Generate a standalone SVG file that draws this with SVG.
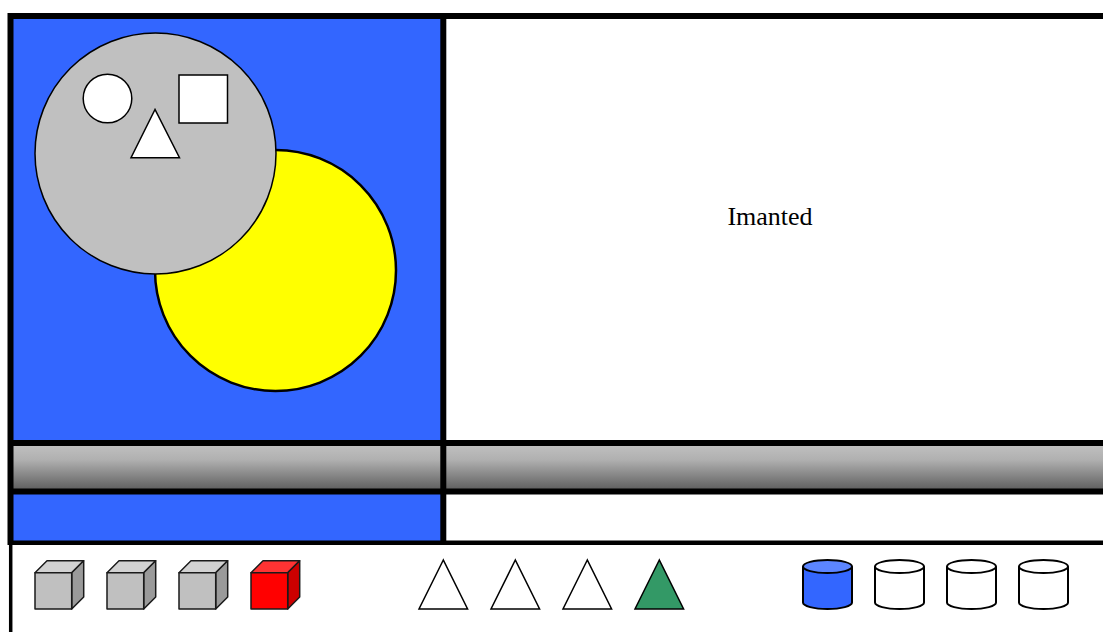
<svg xmlns="http://www.w3.org/2000/svg" width="1103" height="632" viewBox="0 0 1103 632">
<defs>
<linearGradient id="bar" x1="0" y1="0" x2="0" y2="1">
<stop offset="0" stop-color="#c2c2c2"/>
<stop offset="0.35" stop-color="#b0b0b0"/>
<stop offset="1" stop-color="#5c5c5c"/>
</linearGradient>
</defs>
<style>
.line{stroke:#000;stroke-width:6;fill:none}
.shape{stroke:#000;stroke-width:1.5}
.cube path,.cube rect{stroke:#1a1a1a;stroke-width:1.5;stroke-linejoin:round}
.gray .top{fill:#d2d2d2}
.gray .side{fill:#9a9a9a}
.gray .front{fill:#c0c0c0}
.red .top{fill:#ff3333}
.red .side{fill:#cc0000}
.red .front{fill:#ff0000}
.tri polygon{stroke:#000;stroke-width:1.5;stroke-linejoin:miter}
.triw polygon{fill:#fff}
.trig polygon{fill:#339966}
.cyl path,.cyl ellipse{stroke:#000;stroke-width:2}
.cylw path,.cylw ellipse{fill:#fff}
.cylb path{fill:#3366ff}
.cylb ellipse{fill:#5c85ff}
.label{font-family:"Liberation Serif",serif;font-size:26px;fill:#000}
</style>
<rect width="1103" height="632" fill="#fff"/>
<g id="left-panel">
<rect x="11" y="16" width="432" height="527" fill="#3366ff"/>
</g>
<g id="gray-circle-yellow">
<circle id="yellow-circle" cx="275.5" cy="270.5" r="120.5" fill="#ffff00" stroke="#000" stroke-width="2.5"/>
<circle id="gray-circle" cx="155.5" cy="153.5" r="120.5" fill="#c0c0c0" stroke="#000" stroke-width="1.5"/>
<circle id="eye-circle" cx="107.5" cy="98.5" r="24.3" fill="#fff" class="shape"/>
<rect id="eye-square" x="179" y="75" width="48.5" height="48" fill="#fff" class="shape"/>
<polygon id="nose-triangle" points="155,109.5 131,157.7 179.5,157.7" fill="#fff" class="shape"/>
</g>
<g id="right-panel">
<text class="label" x="770" y="225" text-anchor="middle">Imanted</text>
</g>
<g id="bars">
<rect x="11" y="443" width="432" height="48" fill="url(#bar)"/>
<rect x="443" y="443" width="660" height="48" fill="url(#bar)"/>
<rect x="443" y="491" width="660" height="52" fill="#fff"/>
</g>
<g id="frame-lines">
<line class="line" x1="8" y1="16" x2="1103" y2="16"/>
<line class="line" x1="10.5" y1="13" x2="10.5" y2="545"/>
<line class="line" x1="443.3" y1="13" x2="443.3" y2="545"/>
<line class="line" x1="8" y1="443" x2="1103" y2="443"/>
<line class="line" x1="8" y1="491.5" x2="1103" y2="491.5"/>
<line x1="8" y1="542.8" x2="1103" y2="542.8" stroke="#000" stroke-width="4.5"/>
<line x1="10.7" y1="543" x2="10.7" y2="632" stroke="#000" stroke-width="3.5"/>
</g>
<g id="cube-1" class="cube gray" transform="translate(35,572.7)">
<path class="top" d="M0,0 L12,-12 L48.7,-12 L36.7,0 Z"/><path class="side" d="M36.7,0 L48.7,-12 L48.7,24.3 L36.7,36.3 Z"/><rect class="front" x="0" y="0" width="36.7" height="36.3"/>
</g>
<g id="cube-2" class="cube gray" transform="translate(107,572.7)">
<path class="top" d="M0,0 L12,-12 L48.7,-12 L36.7,0 Z"/><path class="side" d="M36.7,0 L48.7,-12 L48.7,24.3 L36.7,36.3 Z"/><rect class="front" x="0" y="0" width="36.7" height="36.3"/>
</g>
<g id="cube-3" class="cube gray" transform="translate(179,572.7)">
<path class="top" d="M0,0 L12,-12 L48.7,-12 L36.7,0 Z"/><path class="side" d="M36.7,0 L48.7,-12 L48.7,24.3 L36.7,36.3 Z"/><rect class="front" x="0" y="0" width="36.7" height="36.3"/>
</g>
<g id="cube-4" class="cube red" transform="translate(251,572.7)">
<path class="top" d="M0,0 L12,-12 L48.7,-12 L36.7,0 Z"/><path class="side" d="M36.7,0 L48.7,-12 L48.7,24.3 L36.7,36.3 Z"/><rect class="front" x="0" y="0" width="36.7" height="36.3"/>
</g>
<g id="tri-1" class="tri triw" transform="translate(443.3,560)"><polygon points="0,0 -24.3,49 24.3,49"/></g>
<g id="tri-2" class="tri triw" transform="translate(515.3,560)"><polygon points="0,0 -24.3,49 24.3,49"/></g>
<g id="tri-3" class="tri triw" transform="translate(587.3,560)"><polygon points="0,0 -24.3,49 24.3,49"/></g>
<g id="tri-4" class="tri trig" transform="translate(659.3,560)"><polygon points="0,0 -24.3,49 24.3,49"/></g>
<g id="cyl-1" class="cyl cylb" transform="translate(803,560)">
<path d="M0,6.5 L0,42.5 A24.5,6.5 0 0 0 49,42.5 L49,6.5"/><ellipse cx="24.5" cy="6.5" rx="24.5" ry="6.5"/>
</g>
<g id="cyl-2" class="cyl cylw" transform="translate(875,560)">
<path d="M0,6.5 L0,42.5 A24.5,6.5 0 0 0 49,42.5 L49,6.5"/><ellipse cx="24.5" cy="6.5" rx="24.5" ry="6.5"/>
</g>
<g id="cyl-3" class="cyl cylw" transform="translate(947,560)">
<path d="M0,6.5 L0,42.5 A24.5,6.5 0 0 0 49,42.5 L49,6.5"/><ellipse cx="24.5" cy="6.5" rx="24.5" ry="6.5"/>
</g>
<g id="cyl-4" class="cyl cylw" transform="translate(1019,560)">
<path d="M0,6.5 L0,42.5 A24.5,6.5 0 0 0 49,42.5 L49,6.5"/><ellipse cx="24.5" cy="6.5" rx="24.5" ry="6.5"/>
</g>
</svg>
